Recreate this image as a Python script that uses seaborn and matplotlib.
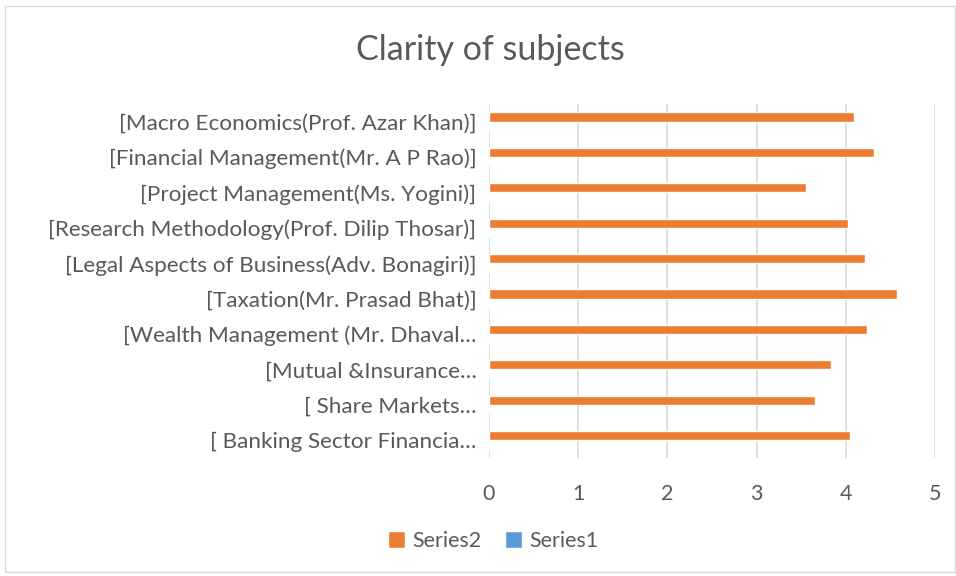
import matplotlib
matplotlib.use("Agg")
import matplotlib.pyplot as plt
import seaborn as sns
import pandas as pd
from matplotlib.patches import Rectangle

categories = [
    "[Macro Economics(Prof. Azar Khan)]",
    "[Financial Management(Mr. A P Rao)]",
    "[Project Management(Ms. Yogini)]",
    "[Research Methodology(Prof. Dilip Thosar)]",
    "[Legal Aspects of Business(Adv. Bonagiri)]",
    "[Taxation(Mr. Prasad Bhat)]",
    "[Wealth Management (Mr. Dhaval…",
    "[Mutual &Insurance…",
    "[ Share Markets…",
    "[ Banking Sector Financia…",
]
series2 = [4.09, 4.32, 3.55, 4.02, 4.21, 4.57, 4.24, 3.83, 3.65, 4.05]
series1 = [0, 0, 0, 0, 0, 0, 0, 0, 0, 0]
series_names = ["Series2", "Series1"]
x_ticks = [0, 1, 2, 3, 4, 5]

df = pd.DataFrame({
    "Subject": categories * 2,
    "Value": series2 + series1,
    "Series": ["Series2"] * len(categories) + ["Series1"] * len(categories),
})

sns.set_theme(style="white")
plt.rcParams["font.family"] = ["Lato", "DejaVu Sans"]
text_color = "#595959"

fig = plt.figure(figsize=(9.56, 5.76), dpi=100)
ax = fig.add_axes([489 / 956, 1 - 458 / 576, (935 - 489) / 956, (458 - 104) / 576])

sns.barplot(data=df, x="Value", y="Subject", hue="Series", order=categories,
            hue_order=series_names, palette=["#ED7D31", "#5B9BD5"],
            width=0.52, orient="h", ax=ax, saturation=1, errorbar=None)

handles, labels = ax.get_legend_handles_labels()
ax.get_legend().remove()

ax.set_xlim(0, 5)
ax.set_xticks(x_ticks)
ax.set_xlabel("")
ax.set_ylabel("")
ax.grid(axis="x", color="#d9d9d9", linewidth=1.2)
ax.set_axisbelow(True)
for s in ax.spines.values():
    s.set_visible(False)
ax.tick_params(axis="y", length=0, pad=9, labelsize=16.2, labelcolor=text_color)
ax.tick_params(axis="x", length=0, pad=19, labelsize=15.5, labelcolor=text_color)

fig.text(490 / 956, 1 - 50 / 576, "Clarity of subjects", ha="center", va="center",
         fontsize=24.5, color=text_color)

fig.legend(handles, labels, loc="center", bbox_to_anchor=(493 / 956, 1 - 541 / 576),
           ncol=2, frameon=False, fontsize=15.4, labelcolor=text_color,
           handlelength=0.8, handleheight=0.8, handletextpad=0.35, columnspacing=1.1)

fig.patches.append(Rectangle((5 / 956, 1 - 572 / 576), 950 / 956, 566 / 576,
                             transform=fig.transFigure, fill=False,
                             edgecolor="#d9d9d9", linewidth=1))

fig.savefig("out.png", dpi=100)
